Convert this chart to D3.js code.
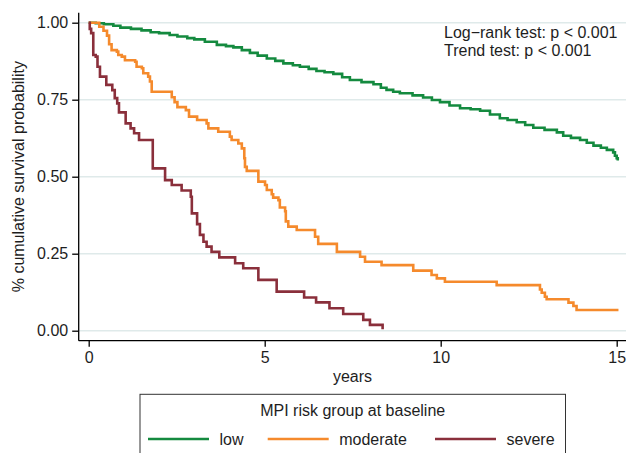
<!DOCTYPE html>
<html>
<head>
<meta charset="utf-8">
<script src="https://cdn.jsdelivr.net/npm/d3@7"></script>
<style>
  body { margin: 0; background: #fff; }
  svg { display: block; font-family: "Liberation Sans", Arial, Helvetica, sans-serif; }
</style>
</head>
<body>
<div id="chart"></div>
<script>
// Kaplan-Meier estimates (time in years, survival)
const lowTime = [0, 0.2, 0.43, 0.7, 0.9, 1.2, 1.5, 1.76, 2.0, 2.3, 2.52, 2.8, 3.0, 3.3, 3.64, 3.9, 4.11, 4.35, 4.58, 4.8, 5.06, 5.3, 5.53, 5.8, 6.0, 6.25, 6.47, 6.7, 6.95, 7.2, 7.42, 7.75, 8.09, 8.3, 8.46, 8.65, 8.84, 9.2, 9.5, 9.75, 9.98, 10.25, 10.55, 10.85, 11.12, 11.4, 11.68, 11.9, 12.16, 12.4, 12.63, 12.95, 13.3, 13.48, 13.7, 13.96, 14.15, 14.34, 14.55, 14.72, 14.9, 14.95, 15.0, 15.03];
const lowSurv = [1.0, 0.998, 0.995, 0.99, 0.984, 0.98, 0.975, 0.969, 0.966, 0.96, 0.955, 0.95, 0.946, 0.938, 0.928, 0.924, 0.92, 0.911, 0.902, 0.893, 0.884, 0.876, 0.868, 0.862, 0.857, 0.85, 0.843, 0.839, 0.834, 0.823, 0.814, 0.807, 0.8, 0.789, 0.782, 0.776, 0.771, 0.764, 0.757, 0.749, 0.742, 0.731, 0.722, 0.719, 0.714, 0.702, 0.69, 0.684, 0.677, 0.668, 0.659, 0.652, 0.644, 0.633, 0.626, 0.619, 0.61, 0.601, 0.594, 0.587, 0.579, 0.568, 0.56, 0.553];

const moderateTime = [0, 0.3, 0.42, 0.52, 0.58, 0.65, 0.8, 0.84, 0.94, 1.03, 1.32, 1.36, 1.51, 1.55, 1.69, 1.74, 1.79, 2.36, 2.44, 2.52, 2.76, 2.85, 3.08, 3.35, 3.4, 3.68, 4.01, 4.06, 4.25, 4.35, 4.42, 4.44, 4.49, 4.82, 5.01, 5.06, 5.2, 5.24, 5.39, 5.43, 5.58, 5.6, 5.67, 5.91, 6.43, 6.52, 7.05, 7.71, 7.85, 8.32, 9.22, 9.74, 9.89, 10.12, 11.59, 12.82, 12.87, 12.96, 13.01, 13.63, 13.77, 13.86, 15.05];
const moderateSurv = [1.0, 0.987, 0.974, 0.958, 0.93, 0.911, 0.906, 0.895, 0.89, 0.878, 0.873, 0.857, 0.852, 0.836, 0.825, 0.809, 0.776, 0.758, 0.742, 0.726, 0.716, 0.695, 0.684, 0.673, 0.657, 0.646, 0.63, 0.619, 0.608, 0.592, 0.56, 0.532, 0.519, 0.484, 0.473, 0.457, 0.443, 0.432, 0.424, 0.4, 0.388, 0.355, 0.338, 0.327, 0.305, 0.282, 0.256, 0.24, 0.224, 0.213, 0.195, 0.181, 0.17, 0.159, 0.148, 0.134, 0.123, 0.11, 0.102, 0.091, 0.08, 0.067, 0.067];

const severeTime = [0, 0.03, 0.07, 0.13, 0.2, 0.25, 0.32, 0.5, 0.67, 0.74, 0.81, 0.86, 1.05, 1.19, 1.29, 1.43, 1.82, 2.17, 2.36, 2.64, 2.9, 2.93, 3.08, 3.16, 3.26, 3.35, 3.49, 3.71, 4.16, 4.39, 4.82, 5.34, 6.12, 6.46, 6.84, 7.23, 7.8, 7.99, 8.35];
const severeSurv = [1.0, 0.98, 0.966, 0.895, 0.89, 0.857, 0.825, 0.798, 0.781, 0.755, 0.738, 0.709, 0.673, 0.657, 0.641, 0.619, 0.527, 0.489, 0.473, 0.455, 0.435, 0.381, 0.346, 0.311, 0.289, 0.273, 0.256, 0.238, 0.219, 0.203, 0.165, 0.127, 0.108, 0.092, 0.073, 0.054, 0.035, 0.019, 0.005];

const groupNames = ["low", "moderate", "severe"];
const groupColors = ["#148a3f", "#f58a2c", "#8a2f3b"];

const yTicks = [0, 0.25, 0.5, 0.75, 1];
const xTicks = [0, 5, 10, 15];
const annotations = ["Log\u2212rank test: p < 0.001", "Trend test: p < 0.001"];

const series = [
  lowTime.map((t, i) => [t, lowSurv[i]]),
  moderateTime.map((t, i) => [t, moderateSurv[i]]),
  severeTime.map((t, i) => [t, severeSurv[i]]),
];

const svg = d3
  .select("#chart")
  .append("svg")
  .attr("width", 628)
  .attr("height", 453);

const xScale = d3.scaleLinear().domain([0, 15]).range([88.7, 616.7]);
const yScale = d3.scaleLinear().domain([0, 1]).range([330.7, 22.7]);

const plotLeft = 78.7;
const plotRight = 626;
const plotTop = 12.7;
const plotBottom = 340.7;
const textColor = "#1e1e1e";

// gridlines
svg
  .append("g")
  .selectAll("line")
  .data(yTicks)
  .enter()
  .append("line")
  .attr("x1", plotLeft)
  .attr("x2", plotRight)
  .attr("y1", (d) => yScale(d))
  .attr("y2", (d) => yScale(d))
  .attr("stroke", "#dfeaea")
  .attr("stroke-width", 1.5);

// survival curves
const line = d3
  .line()
  .x((d) => xScale(d[0]))
  .y((d) => yScale(d[1]))
  .curve(d3.curveStepAfter);

svg
  .append("g")
  .selectAll("path")
  .data(series)
  .enter()
  .append("path")
  .attr("d", line)
  .attr("fill", "none")
  .attr("stroke", (d, i) => groupColors[i])
  .attr("stroke-width", 2.6)
  .attr("stroke-linejoin", "miter");

// y axis
const yAxis = d3
  .axisLeft(yScale)
  .tickValues(yTicks)
  .tickFormat(d3.format(".2f"))
  .tickSize(6.5)
  .tickPadding(4);

const yAxisG = svg
  .append("g")
  .attr("transform", `translate(${plotLeft},0)`)
  .call(yAxis);
yAxisG.select(".domain").remove();
yAxisG
  .append("line")
  .attr("x1", 0)
  .attr("x2", 0)
  .attr("y1", plotTop)
  .attr("y2", plotBottom)
  .attr("stroke", "#000")
  .attr("stroke-width", 1.3);

// x axis
const xAxis = d3
  .axisBottom(xScale)
  .tickValues(xTicks)
  .tickFormat((d) => `${d}`)
  .tickSize(6)
  .tickPadding(5);

const xAxisG = svg
  .append("g")
  .attr("transform", `translate(0,${plotBottom})`)
  .call(xAxis);
xAxisG.select(".domain").remove();
xAxisG
  .append("line")
  .attr("x1", plotLeft)
  .attr("x2", plotRight)
  .attr("y1", 0)
  .attr("y2", 0)
  .attr("stroke", "#000")
  .attr("stroke-width", 1.3);

svg
  .selectAll(".tick line")
  .attr("stroke", "#000")
  .attr("stroke-width", 1.3);
svg
  .selectAll(".tick text")
  .attr("font-size", 16)
  .attr("font-family", "'Liberation Sans', Arial, sans-serif")
  .attr("fill", textColor);

// axis titles
svg
  .append("text")
  .attr("x", 352.5)
  .attr("y", 381.5)
  .attr("text-anchor", "middle")
  .attr("font-size", 16)
  .attr("fill", textColor)
  .text("years");

svg
  .append("text")
  .attr("transform", "translate(24,176.7) rotate(-90)")
  .attr("text-anchor", "middle")
  .attr("font-size", 16)
  .attr("fill", textColor)
  .text("% cumulative survival probability");

// test annotations
svg
  .append("g")
  .selectAll("text")
  .data(annotations)
  .enter()
  .append("text")
  .attr("x", 444)
  .attr("y", (d, i) => 38 + i * 18)
  .attr("font-size", 16)
  .attr("fill", textColor)
  .text((d) => d);

// legend
const legend = svg.append("g").attr("id", "legend");

legend
  .append("rect")
  .attr("x", 140)
  .attr("y", 394.3)
  .attr("width", 425.5)
  .attr("height", 80)
  .attr("fill", "#fff")
  .attr("stroke", "#333")
  .attr("stroke-width", 1);

legend
  .append("text")
  .attr("x", 352.7)
  .attr("y", 416)
  .attr("text-anchor", "middle")
  .attr("font-size", 16)
  .attr("fill", textColor)
  .text("MPI risk group at baseline");

const legendLineX = [148, 267.7, 435];
const legendLineW = 61;

legend
  .selectAll(".legend-line")
  .data(groupNames)
  .enter()
  .append("line")
  .attr("class", "legend-line")
  .attr("x1", (d, i) => legendLineX[i])
  .attr("x2", (d, i) => legendLineX[i] + legendLineW)
  .attr("y1", 439)
  .attr("y2", 439)
  .attr("stroke", (d, i) => groupColors[i])
  .attr("stroke-width", 2.6);

legend
  .selectAll(".legend-label")
  .data(groupNames)
  .enter()
  .append("text")
  .attr("class", "legend-label")
  .attr("x", (d, i) => legendLineX[i] + legendLineW + 10.5)
  .attr("y", 445)
  .attr("font-size", 16)
  .attr("fill", textColor)
  .text((d) => d);
</script>
</body>
</html>
